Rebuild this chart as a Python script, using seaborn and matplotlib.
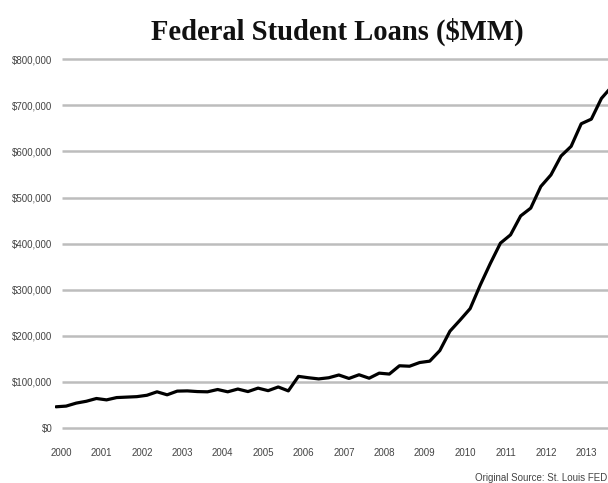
import numpy as np
import pandas as pd
import matplotlib
matplotlib.use("Agg")
import matplotlib.pyplot as plt
import seaborn as sns

# ========================
# DATA ($MM, quarterly 2000Q1 .. 2013Q4)
# ========================
years = list(range(2000, 2014))
quarters = [f"{y}Q{q}" for y in years for q in range(1, 5)]

loans = [
    46000, 47500, 54000, 58000,      # 2000
    64000, 61000, 66000, 67000,      # 2001
    68000, 71000, 78500, 72000,      # 2002
    80000, 80500, 79000, 78500,      # 2003
    83500, 78500, 84500, 79000,      # 2004
    86500, 81000, 89000, 80500,      # 2005
    112000, 109000, 106500, 109000,  # 2006
    115000, 107500, 115500, 108000,  # 2007
    119000, 117000, 135000, 134000,  # 2008
    142000, 145000, 168000, 210000,  # 2009
    234000, 259000, 310000, 357000,  # 2010
    401000, 419000, 460000, 477000,  # 2011
    524000, 549000, 590000, 611000,  # 2012
    660000, 670000, 715000, 740000,  # 2013
]

y_ticks = [0, 100000, 200000, 300000, 400000, 500000, 600000, 700000, 800000]
y_labels = [f"${v:,.0f}" for v in y_ticks]

df = pd.DataFrame({"quarter": quarters, "loans": loans})
df["idx"] = np.arange(len(df))

# ========================
# PLOT
# ========================
sns.set_style("white")
small_font = ["Liberation Sans Narrow", "Liberation Sans", "DejaVu Sans"]

fig = plt.figure(figsize=(6.08, 4.83), dpi=100)
ax = fig.add_axes([0.0905, 0.1091, 0.9095, 0.7731])

# gridlines start a little right of where the line begins
x_lo, x_hi = -0.1, 54.65
ax.hlines(y_ticks, 0.6, x_hi, colors="#bdbdbd", linewidth=1.8, zorder=1)

sns.lineplot(data=df, x="idx", y="loans", ax=ax, color="black",
             linewidth=2.3, zorder=3)

ax.set_xlim(x_lo, x_hi)
ax.set_ylim(-5000, 805000)

ax.set_xticks([4 * k + 0.5 for k in range(len(years))])
ax.set_xticklabels([str(y) for y in years], family=small_font,
                   fontsize=7, color="#444444")
ax.set_yticks(y_ticks)
ax.set_yticklabels(y_labels, family=small_font, fontsize=7, color="#444444")
ax.tick_params(axis="x", length=0, pad=13)
ax.tick_params(axis="y", length=0, pad=2)
ax.set_xlabel("")
ax.set_ylabel("")
for s in ax.spines.values():
    s.set_visible(False)

fig.text(337 / 608, 1 - 32 / 483, "Federal Student Loans ($MM)",
         ha="center", va="center", fontsize=20.6, fontweight="bold",
         family=["Liberation Serif", "DejaVu Serif"], color="#111111")
fig.text(607 / 608, 1 - 478 / 483, "Original Source: St. Louis FED",
         ha="right", va="center", fontsize=7, family=small_font,
         color="#444444")

fig.savefig("out.png", dpi=100)
